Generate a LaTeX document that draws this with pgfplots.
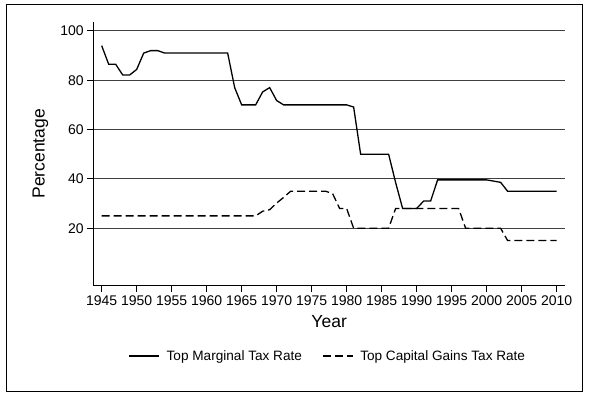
\documentclass[border=0pt]{standalone}
\usepackage{pgfplots}
\pgfplotsset{compat=1.18}
\usepackage{fontspec}
\setmainfont{Liberation Sans}
\usetikzlibrary{calc}
\begin{document}
\begin{tikzpicture}
\begin{axis}[
  scale only axis,
  width=471.7pt, height=263.7pt,
  xmin=1943.8, xmax=2011.2,
  ymin=-3.3, ymax=103.6,
  axis lines=left,
  axis line style={-, line width=0.8pt},
  tick align=outside,
  major tick length=6pt,
  tick style={line width=0.8pt, black},
  xtick={1945,1950,...,2010},
  ytick={20,40,60,80,100},
  xticklabel style={/pgf/number format/1000 sep={}},
  /pgf/number format/assume math mode=true,
  tick label style={font=\fontsize{14}{16}\selectfont},
  ymajorgrids,
  grid style={black!75, line width=0.9pt},
  xlabel={Year}, ylabel={Percentage},
  every axis x label/.style={at={(axis description cs:0.5,0)}, yshift=-42pt, anchor=base, font=\fontsize{17.5}{20}\selectfont},
  every axis y label/.style={at={(axis description cs:0,0.5)}, xshift=-53pt, rotate=90, anchor=center, font=\fontsize{17.5}{20}\selectfont},
  legend columns=2,
  legend image code/.code={\draw[#1] (0pt,0pt) -- (30pt,0pt);},
  legend style={draw=none, fill=none, at={(axis description cs:0.497,-0.2666)}, anchor=center,
    font=\fontsize{13.6}{15}\selectfont, cells={anchor=west},
    /tikz/every odd column/.append style={column sep=5pt},
    /tikz/every even column/.append style={column sep=18pt}},
]
\addplot[black, line width=1.3pt] coordinates {
(1945,94) (1946,86.45) (1947,86.45) (1948,82.13) (1949,82.13) (1950,84.36)
(1951,91) (1952,92) (1953,92) (1954,91) (1955,91) (1956,91) (1957,91) (1958,91)
(1959,91) (1960,91) (1961,91) (1962,91) (1963,91) (1964,77) (1965,70) (1966,70)
(1967,70) (1968,75.25) (1969,77) (1970,71.75) (1971,70) (1972,70) (1973,70)
(1974,70) (1975,70) (1976,70) (1977,70) (1978,70) (1979,70) (1980,70) (1981,69.13)
(1982,50) (1983,50) (1984,50) (1985,50) (1986,50) (1987,38.5) (1988,28) (1989,28)
(1990,28) (1991,31) (1992,31) (1993,39.6) (1994,39.6) (1995,39.6) (1996,39.6)
(1997,39.6) (1998,39.6) (1999,39.6) (2000,39.6) (2001,39.1) (2002,38.6) (2003,35)
(2004,35) (2005,35) (2006,35) (2007,35) (2008,35) (2009,35) (2010,35)
};
\addlegendentry{Top Marginal Tax Rate}
\addplot[black, line width=1.3pt, dash pattern=on 8pt off 4pt] coordinates {
(1945,25) (1946,25) (1947,25) (1948,25) (1949,25) (1950,25) (1951,25) (1952,25)
(1953,25) (1954,25) (1955,25) (1956,25) (1957,25) (1958,25) (1959,25) (1960,25)
(1961,25) (1962,25) (1963,25) (1964,25) (1965,25) (1966,25) (1967,25) (1968,26.9)
(1969,27.5) (1970,30.2) (1971,32.5) (1972,35) (1973,35) (1974,35) (1975,35)
(1976,35) (1977,35) (1978,34) (1979,28) (1980,28) (1981,20) (1982,20) (1983,20)
(1984,20) (1985,20) (1986,20) (1987,28) (1988,28) (1989,28) (1990,28) (1991,28)
(1992,28) (1993,28) (1994,28) (1995,28) (1996,28) (1997,20) (1998,20) (1999,20)
(2000,20) (2001,20) (2002,20) (2003,15) (2004,15) (2005,15) (2006,15) (2007,15)
(2008,15) (2009,15) (2010,15)
};
\addlegendentry{Top Capital Gains Tax Rate}
\coordinate (O) at (rel axis cs:0,0);
\end{axis}
\draw[line width=0.8pt] ($(O)+(-87.3pt,-105.3pt)$) rectangle ($(O)+(488.7pt,281.7pt)$);
\path ($(O)+(-93.3pt,-107.3pt)$) rectangle ($(O)+(496.7pt,285.7pt)$);
\end{tikzpicture}
\end{document}
